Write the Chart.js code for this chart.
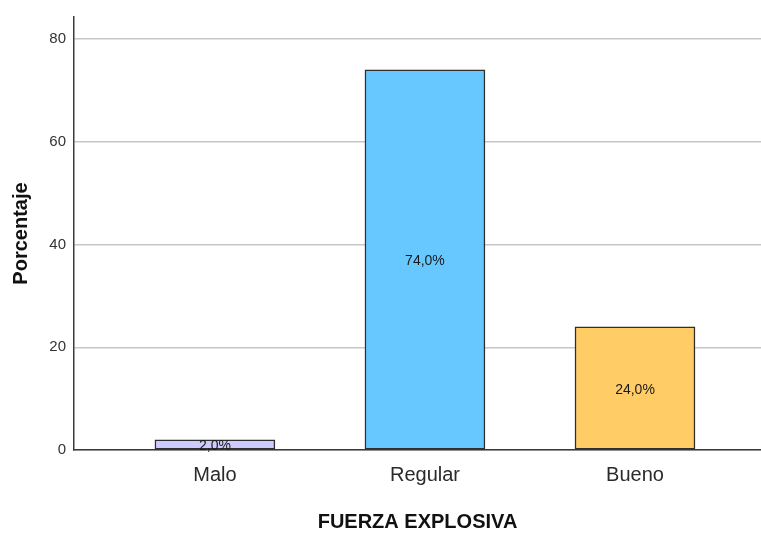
<!DOCTYPE html>
<html>
<head>
<meta charset="utf-8">
<script src="https://cdn.jsdelivr.net/npm/chart.js@4.4.1/dist/chart.umd.min.js"></script>
<style>
  html, body { margin: 0; padding: 0; background: #ffffff; }
  #wrap { width: 761px; height: 534px; position: relative; }
</style>
</head>
<body>
<div id="wrap"><canvas id="c" width="761" height="534"></canvas></div>
<script>
// Distribución de la fuerza explosiva (%)
const categories = ['Malo', 'Regular', 'Bueno'];
const percentages = [2.0, 74.0, 24.0];
const barColors = ['#ccccff', '#66c8ff', '#ffcc66'];
const yTicks = [0, 20, 40, 60, 80];
const yMax = 84.3;

const positions = categories.map((_, i) => i);

// Etiqueta de porcentaje centrada dentro de cada barra
const barValueLabels = {
  id: 'barValueLabels',
  afterDatasetsDraw(chart) {
    const ctx = chart.ctx;
    const meta = chart.getDatasetMeta(0);
    ctx.save();
    ctx.font = '14px "Liberation Sans", Arial, sans-serif';
    ctx.fillStyle = '#1a1a1a';
    ctx.textAlign = 'center';
    ctx.textBaseline = 'middle';
    meta.data.forEach((bar, i) => {
      const v = percentages[i];
      const txt = v.toFixed(1).replace('.', ',') + '%';
      const cy = (bar.y + bar.base) / 2;
      ctx.fillText(txt, bar.x, cy + 2);
    });
    ctx.restore();
  }
};

new Chart(document.getElementById('c'), {
  type: 'bar',
  data: {
    datasets: [{
      data: positions.map((p, i) => ({ x: p, y: percentages[i] })),
      backgroundColor: barColors,
      borderColor: '#2e2e2e',
      borderWidth: 1.5,
      borderSkipped: false,
      barThickness: 120
    }]
  },
  options: {
    responsive: false,
    animation: false,
    devicePixelRatio: 1,
    layout: { padding: { top: 16, right: 0, bottom: 0, left: 0 } },
    plugins: {
      legend: { display: false },
      tooltip: { enabled: false }
    },
    scales: {
      x: {
        type: 'linear',
        offset: false,
        min: -0.671,
        max: 2.6,
        afterBuildTicks(scale) {
          scale.ticks = positions.map(v => ({ value: v }));
        },
        afterFit(scale) { scale.height = 84; },
        grid: { display: false, drawTicks: false, offset: false },
        border: { display: true, color: '#3a3a3a', width: 1.5 },
        ticks: {
          autoSkip: false,
          maxRotation: 0,
          padding: 13,
          color: '#2a2a2a',
          font: { family: '"Liberation Sans", Arial, sans-serif', size: 20 },
          callback: (v) => categories[v] ?? ''
        },
        title: {
          display: true,
          text: 'FUERZA EXPLOSIVA',
          color: '#111111',
          padding: { top: 0, bottom: 0 },
          font: { family: '"Liberation Sans", Arial, sans-serif', size: 20, weight: 'bold' }
        }
      },
      y: {
        min: 0,
        max: yMax,
        afterBuildTicks(scale) {
          scale.ticks = yTicks.map(v => ({ value: v }));
        },
        afterFit(scale) { scale.width = 74; },
        grid: { color: '#c6c6c6', lineWidth: 1.5, drawTicks: false },
        border: { display: true, color: '#3a3a3a', width: 1.5 },
        ticks: {
          padding: 8,
          color: '#333333',
          font: { family: '"Liberation Sans", Arial, sans-serif', size: 15 }
        },
        title: {
          display: true,
          text: 'Porcentaje',
          color: '#111111',
          padding: { top: 9, bottom: 0 },
          font: { family: '"Liberation Sans", Arial, sans-serif', size: 20, weight: 'bold' }
        }
      }
    }
  },
  plugins: [barValueLabels]
});
</script>
</body>
</html>
